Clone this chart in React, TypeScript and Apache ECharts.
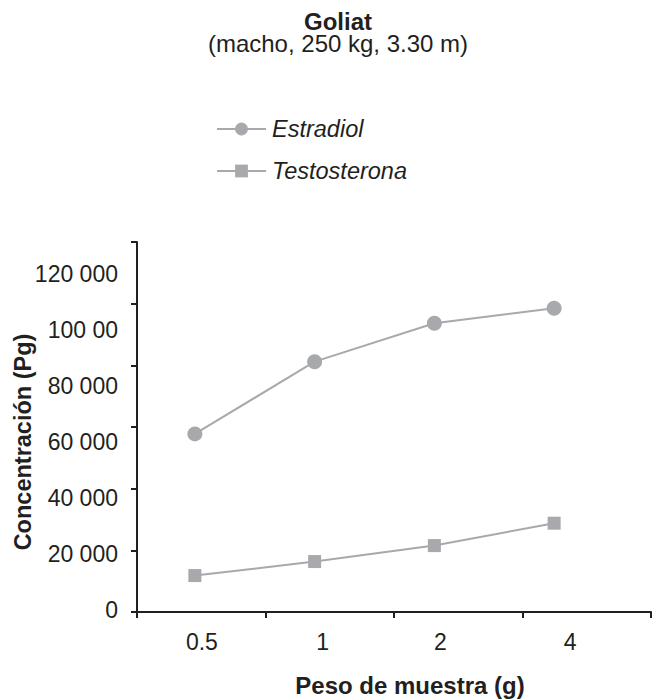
import React, { useEffect, useRef } from 'react';
import * as echarts from 'echarts';

// ---- data ----
const categories = ['0.5', '1', '2', '4'];
const estradiol = [62900, 88700, 102400, 107800];
const testosterona = [12300, 17300, 23000, 31000];
const yTickValues = [0, 20000, 40000, 60000, 80000, 100000, 120000];
const yTickLabels = ['0', '20 000', '40 000', '60 000', '80 000', '100 00', '120 000'];
const seriesNames = ['Estradiol', 'Testosterona'];

const TEXT = '#231f20';
const GRAY = '#a7a9ac';
const FONT = '"Liberation Sans", Arial, Helvetica, sans-serif';
// per-label horizontal nudges (px of left padding) to follow the original's label placement
const X_LABEL_PAD = [14, 16, 12, 32];

export default function App() {
  const ref = useRef<HTMLDivElement>(null);
  useEffect(() => {
    if (!ref.current) return;
    const chart = echarts.init(ref.current, null, { renderer: 'svg' });
    const rich: Record<string, any> = {};
    X_LABEL_PAD.forEach((p, i) => {
      rich['l' + i] = { fontSize: 23, fontFamily: FONT, color: TEXT, padding: [0, 0, 0, p] };
    });
    const option: any = {
      animation: false,
      textStyle: { fontFamily: FONT, color: TEXT },
      title: {
        text: 'Goliat',
        subtext: '(macho, 250 kg, 3.30 m)',
        left: 333,
        textAlign: 'center',
        top: 5,
        itemGap: -2,
        textStyle: { fontSize: 24, fontWeight: 'bold', color: TEXT, lineHeight: 22, fontFamily: FONT },
        subtextStyle: { fontSize: 24, color: TEXT, lineHeight: 22, fontFamily: FONT },
      },
      legend: {
        orient: 'vertical',
        left: 211,
        top: 110,
        itemWidth: 49,
        itemHeight: 16,
        itemGap: 14,
        data: seriesNames,
        textStyle: { fontSize: 23.5, fontStyle: 'italic', color: TEXT, lineHeight: 28, fontFamily: FONT, padding: [0, 0, 0, 1] },
      },
      grid: [
        { left: 137, right: 8, top: 242, bottom: 88, containLabel: false, outerBoundsMode: 'none' },
        { left: 135, width: 479, top: 274, bottom: 90, containLabel: false, outerBoundsMode: 'none' },
      ],
      xAxis: [
        {
          type: 'category',
          gridIndex: 0,
          data: categories,
          boundaryGap: true,
          axisLine: { show: true, lineStyle: { color: TEXT, width: 2 } },
          axisTick: { show: true, length: 6, lineStyle: { color: TEXT, width: 2 } },
          axisLabel: { show: false },
          splitLine: { show: false },
          name: 'Peso de muestra (g)',
          nameLocation: 'middle',
          nameGap: 61,
          nameMoveOverlap: false,
          nameTextStyle: { fontSize: 24, lineHeight: 24, fontWeight: 'bold', color: TEXT, fontFamily: FONT, padding: [0, 0, 0, 32] },
        },
        {
          type: 'category',
          gridIndex: 1,
          data: categories,
          boundaryGap: true,
          axisLine: { show: false },
          axisTick: { show: false },
          splitLine: { show: false },
          axisLabel: {
            margin: 20,
            fontSize: 23,
            color: TEXT,
            formatter: (v: string, i: number) => `{l${i}|${v}}`,
            rich,
          },
        },
      ],
      yAxis: [
        {
          type: 'value',
          gridIndex: 0,
          min: 0,
          max: 120000,
          interval: 20000,
          axisLine: { show: true, lineStyle: { color: TEXT, width: 2 } },
          axisTick: { show: true, length: 6, lineStyle: { color: TEXT, width: 2 } },
          axisLabel: { show: false },
          splitLine: { show: false },
        },
        {
          type: 'value',
          gridIndex: 1,
          min: 0,
          max: 120000,
          interval: 20000,
          axisLine: { show: false },
          axisTick: { show: false },
          splitLine: { show: false },
          axisLabel: {
            margin: 17,
            fontSize: 23,
            color: TEXT,
            formatter: (v: number) => {
              const k = yTickValues.indexOf(v);
              return k >= 0 ? yTickLabels[k] : '';
            },
          },
          name: 'Concentración (Pg)',
          nameLocation: 'middle',
          nameGap: 100,
          nameRotate: 90,
          nameMoveOverlap: false,
          nameTextStyle: { fontSize: 23.5, lineHeight: 24, fontWeight: 'bold', color: TEXT, fontFamily: FONT },
        },
      ],
      series: [
        {
          name: seriesNames[0],
          type: 'line',
          xAxisIndex: 1,
          yAxisIndex: 1,
          data: estradiol,
          symbol: 'circle',
          symbolSize: 15,
          lineStyle: { color: GRAY, width: 2 },
          itemStyle: { color: GRAY },
          clip: false,
        },
        {
          name: seriesNames[1],
          type: 'line',
          xAxisIndex: 1,
          yAxisIndex: 1,
          data: testosterona,
          symbol: 'rect',
          symbolSize: 13,
          lineStyle: { color: GRAY, width: 2 },
          itemStyle: { color: GRAY },
          clip: false,
        },
      ],
    };
    chart.setOption(option);
    return () => chart.dispose();
  }, []);
  return (
    <div
      ref={ref}
      style={{ position: 'fixed', left: 0, top: 0, width: 659, height: 700, background: '#fff' }}
    />
  );
}
